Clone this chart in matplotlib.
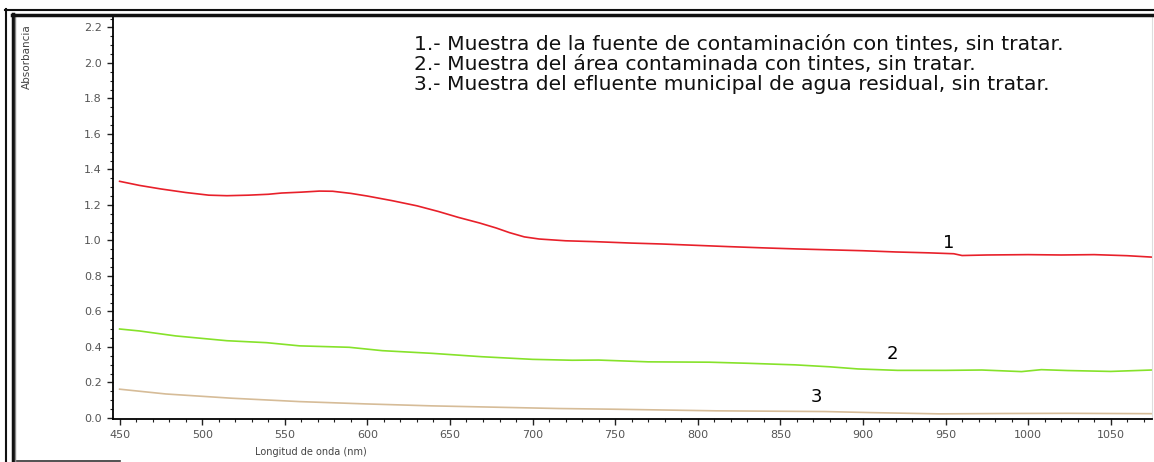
import matplotlib
matplotlib.use("Agg")
import matplotlib.pyplot as plt
from matplotlib.lines import Line2D
from matplotlib.ticker import MultipleLocator

plt.rcParams['font.family'] = ['DejaVu Sans']

# Absorbance spectra of the three untreated samples
nm_1 = [450, 462, 475, 490, 504, 515, 528, 540, 548, 560, 571, 579, 590, 600, 615,
        630, 643, 655, 668, 678, 686, 695, 704, 720, 738, 760, 778, 800, 819, 840,
        860, 880, 900, 920, 940, 955, 960, 975, 1000, 1020, 1040, 1060, 1075]
abs_1 = [1.333, 1.31, 1.29, 1.27, 1.255, 1.252, 1.255, 1.26, 1.267, 1.272, 1.278, 1.277,
         1.265, 1.25, 1.224, 1.195, 1.163, 1.13, 1.098, 1.07, 1.044, 1.02, 1.008, 0.998,
         0.993, 0.985, 0.98, 0.972, 0.965, 0.958, 0.952, 0.947, 0.942, 0.935, 0.93, 0.925,
         0.915, 0.918, 0.92, 0.918, 0.92, 0.914, 0.906]

nm_2 = [450, 462, 484, 500, 515, 539, 559, 589, 609, 639, 669, 700, 724, 740, 770, 807,
        830, 859, 880, 897, 921, 950, 972, 996, 1008, 1024, 1050, 1075]
abs_2 = [0.501, 0.49, 0.462, 0.448, 0.435, 0.424, 0.406, 0.398, 0.379, 0.364, 0.345, 0.33,
         0.325, 0.326, 0.316, 0.314, 0.308, 0.299, 0.288, 0.276, 0.268, 0.268, 0.27, 0.261,
         0.272, 0.267, 0.262, 0.27]

nm_3 = [450, 478, 518, 559, 599, 639, 680, 716, 750, 811, 877, 905, 946, 985, 1024, 1075]
abs_3 = [0.162, 0.135, 0.111, 0.092, 0.079, 0.068, 0.06, 0.053, 0.049, 0.04, 0.036, 0.03,
         0.023, 0.025, 0.026, 0.024]

legend_lines = [
    "1.- Muestra de la fuente de contaminación con tintes, sin tratar.",
    "2.- Muestra del área contaminada con tintes, sin tratar.",
    "3.- Muestra del efluente municipal de agua residual, sin tratar.",
]

W, H = 1154, 462


def fx(x):
    return x / W


def fy(y):
    return 1 - y / H


fig = plt.figure(figsize=(W / 100, H / 100), dpi=100)
ax = fig.add_axes([fx(113), fy(419), fx(1152) - fx(113), fy(15) - fy(419)])

ax.plot(nm_1, abs_1, color='#e8202a', lw=1.2)
ax.plot(nm_2, abs_2, color='#86e22a', lw=1.2)
ax.plot(nm_3, abs_3, color='#d6bc98', lw=1.2)

ax.text(952, 0.986, "1", fontsize=13, ha='center', va='center')
ax.text(918, 0.36, "2", fontsize=13, ha='center', va='center')
ax.text(872, 0.118, "3", fontsize=13, ha='center', va='center')

ax.set_xlim(446, 1075)
ax.set_ylim(-0.006, 2.27)
ax.xaxis.set_major_locator(MultipleLocator(50))
ax.xaxis.set_minor_locator(MultipleLocator(10))
ax.yaxis.set_major_locator(MultipleLocator(0.2))
ax.yaxis.set_minor_locator(MultipleLocator(0.05))
ax.yaxis.set_major_formatter(plt.FormatStrFormatter('%.1f'))
ax.tick_params(which='major', length=4, width=1, colors='#222', labelcolor='#555',
               labelsize=8, pad=4)
ax.tick_params(which='minor', length=2.5, width=0.8, colors='#222')

ax.spines['top'].set_visible(False)
ax.spines['right'].set_color('#dddddd')
ax.spines['left'].set_linewidth(1.3)
ax.spines['bottom'].set_linewidth(1.3)

fig.text(fx(27), fy(57), "Absorbancia", rotation=90, fontsize=7.5, color='#444',
         ha='center', va='center')
fig.text(fx(311), fy(452), "Longitud de onda (nm)", fontsize=7, color='#444',
         ha='center', va='center')

for i, line in enumerate(legend_lines):
    fig.text(fx(414), fy(45 + i * 19.5), line, fontsize=14.6, color='#111',
             ha='left', va='center')

# double frame around the figure
frame = [
    ((5.5, 5.5), (9, H), 1.5, '#111'),
    ((12.5, 12.5), (14, H), 2.5, '#111'),
    ((15, 15), (14, H), 1.0, '#888'),
    ((5, W), (9.5, 9.5), 1.5, '#111'),
    ((12, W), (14.5, 14.5), 2.5, '#111'),
    ((17, 120), (461, 461), 1.2, '#333'),
]
for xs, ys, lw, c in frame:
    fig.add_artist(Line2D([fx(v) for v in xs], [fy(v) for v in ys], lw=lw, color=c,
                          transform=fig.transFigure))

fig.savefig("out.png", dpi=100)
